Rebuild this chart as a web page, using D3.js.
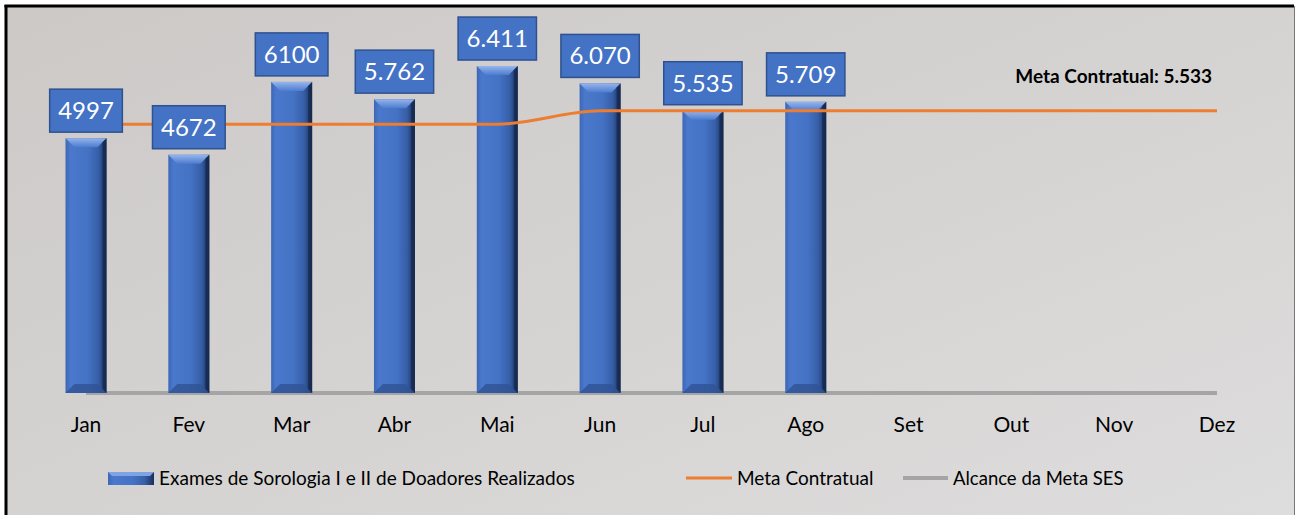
<!DOCTYPE html>
<html><head><meta charset="utf-8">
<script src="https://cdn.jsdelivr.net/npm/d3@7"></script>
<style>body{margin:0;background:#fff}svg{display:block}text{font-family:Lato,"Open Sans",sans-serif}</style>
</head><body><svg id="c" width="1296" height="515"></svg>
<script>
const months = ["Jan","Fev","Mar","Abr","Mai","Jun","Jul","Ago","Set","Out","Nov","Dez"];
const exames = [4997,4672,6100,5762,6411,6070,5535,5709];
const examesLabels = ["4997","4672","6100","5.762","6.411","6.070","5.535","5.709"];
const meta = [5270,5270,5270,5270,5270,5533,5533,5533,5533,5533,5533,5533];
const alcance = [0,0,0,0,0,0,0,0,0,0,0,0];
const legendNames = ["Exames de Sorologia I e II de Doadores Realizados","Meta Contratual","Alcance da Meta SES"];
const metaNote = "Meta Contratual: 5.533";

const svg = d3.select("#c");
const defs = svg.append("defs");
const bg = defs.append("linearGradient").attr("id","bg").attr("x1","0").attr("y1","0").attr("x2","1").attr("y2","1");
bg.append("stop").attr("offset","0").attr("stop-color","#ccc9c7");
bg.append("stop").attr("offset","1").attr("stop-color","#dedddd");
const bh = defs.append("linearGradient").attr("id","barg").attr("x1","0").attr("x2","1").attr("y1","0").attr("y2","0");
[[0,"#3d67b5"],[0.12,"#4a78cc"],[0.55,"#4472c4"],[0.8,"#375fa8"],[1,"#1a2f5a"]].forEach(([o,c])=>bh.append("stop").attr("offset",o).attr("stop-color",c));
const bt = defs.append("linearGradient").attr("id","bevt").attr("x1","0").attr("x2","0").attr("y1","0").attr("y2","1");
bt.append("stop").attr("offset","0").attr("stop-color","#96b5ec");
bt.append("stop").attr("offset","1").attr("stop-color","#4d7ccf");

svg.append("rect").attr("x",6).attr("y",6).attr("width",1288).attr("height",520).attr("fill","url(#bg)");
svg.append("line").attr("x1",4.5).attr("x2",1294).attr("y1",6).attr("y2",6).attr("stroke","#000").attr("stroke-width",3);
svg.append("line").attr("x1",6).attr("x2",6).attr("y1",5).attr("y2",515).attr("stroke","#000").attr("stroke-width",3);
svg.append("line").attr("x1",1294.5).attr("x2",1294.5).attr("y1",6).attr("y2",515).attr("stroke","#777").attr("stroke-width",1);

const x = d3.scaleBand().domain(months).range([34.6,1268.4]);
const y = d3.scaleLinear().domain([0,7000]).range([393,36]);
const bw = 41;
const cx = m => x(m) + x.bandwidth()/2;

// gray line (Alcance)
const line = d3.line().x((d,i)=>cx(months[i])).y(d=>y(d));
svg.append("path").datum(alcance).attr("d",line).attr("fill","none").attr("stroke","#a5a5a5").attr("stroke-width",4);

// bars
const bars = svg.append("g");
exames.forEach((v,i)=>{
  const x0 = cx(months[i]) - bw/2, y0 = y(v), y1 = y(0);
  const g = bars.append("g");
  g.append("rect").attr("x",x0).attr("y",y0).attr("width",bw).attr("height",y1-y0).attr("fill","url(#barg)");
  const b = 9;
  g.append("path").attr("d",`M${x0},${y0}L${x0+bw},${y0}L${x0+bw-b},${y0+b}L${x0+b},${y0+b}Z`).attr("fill","url(#bevt)");
  g.append("path").attr("d",`M${x0},${y1}L${x0+bw},${y1}L${x0+bw-b},${y1-b}L${x0+b},${y1-b}Z`).attr("fill","#2f5394").attr("opacity",0.8);
  g.append("path").attr("d",`M${x0+bw},${y0}L${x0+bw},${y1}L${x0+bw-4},${y1-4}L${x0+bw-4},${y0+4}Z`).attr("fill","#14264a").attr("opacity",0.7);
});

// orange meta line
const metaLine = d3.line().x((d,i)=>cx(months[i])).y(d=>y(d)).curve(d3.curveMonotoneX);
svg.append("path").datum(meta).attr("d",metaLine).attr("fill","none").attr("stroke","#ed7d31").attr("stroke-width",3);

// data labels
exames.forEach((v,i)=>{
  const g = svg.append("g");
  const t = g.append("text").attr("x",cx(months[i])).attr("y",y(v)-6-21.5).attr("dy","0.35em").attr("text-anchor","middle")
    .attr("fill","#fff").attr("font-size",24).text(examesLabels[i]);
  const w = t.node().getComputedTextLength() + 17;
  g.insert("rect","text").attr("x",cx(months[i])-w/2).attr("y",y(v)-6-43).attr("width",w).attr("height",43)
    .attr("fill","#4472c4").attr("stroke","#2f528f").attr("stroke-width",1.5);
});

// x axis labels
const ax = svg.append("g").attr("transform","translate(0,398)").call(d3.axisBottom(x).tickSize(0).tickPadding(19));
ax.select(".domain").remove();
ax.selectAll("text").attr("font-size",21).attr("fill","#000").style("font-family","Lato, sans-serif");

// meta note
svg.append("text").attr("x",1212).attr("y",83).attr("text-anchor","end").attr("font-weight","bold").attr("font-size",19).attr("fill","#000").text(metaNote);

// legend
const lg = svg.append("g");
lg.append("rect").attr("x",108).attr("y",472).attr("width",46).attr("height",13).attr("fill","url(#barg)");
lg.append("path").attr("d","M108,472L154,472L150,476L112,476Z").attr("fill","#7fa3e3");
lg.append("text").attr("x",159).attr("y",485).attr("font-size",19).attr("fill","#000").text(legendNames[0]);
lg.append("line").attr("x1",686).attr("x2",732).attr("y1",478).attr("y2",478).attr("stroke","#ed7d31").attr("stroke-width",3);
lg.append("text").attr("x",737).attr("y",485).attr("font-size",19).attr("fill","#000").text(legendNames[1]);
lg.append("line").attr("x1",903).attr("x2",948).attr("y1",478).attr("y2",478).attr("stroke","#a5a5a5").attr("stroke-width",4);
lg.append("text").attr("x",953).attr("y",485).attr("font-size",18.5).attr("fill","#000").text(legendNames[2]);
</script></body></html>
